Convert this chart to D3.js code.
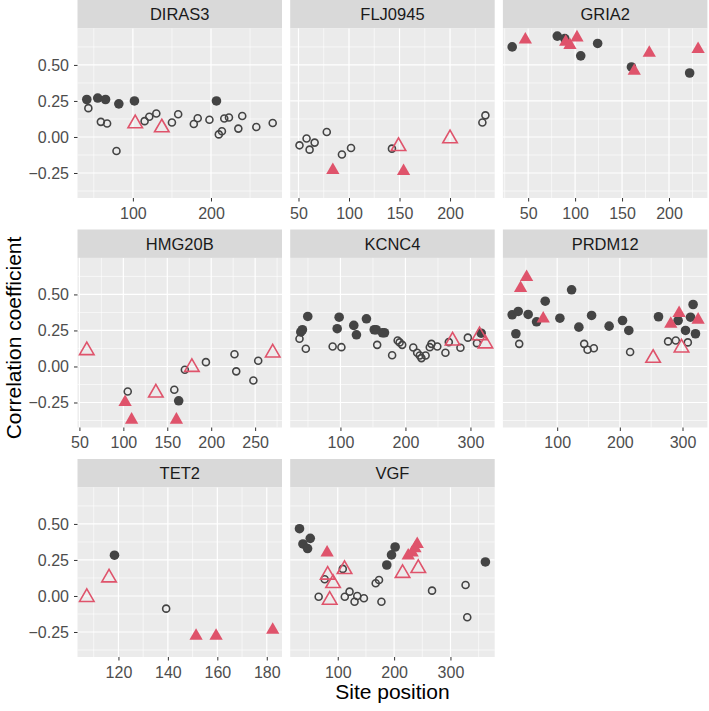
<!DOCTYPE html>
<html>
<head>
<meta charset="utf-8">
<script src="https://cdn.jsdelivr.net/npm/d3@7"></script>
<style>
  body { margin: 0; background: #fff; }
  text { font-family: "Liberation Sans", Arial, Helvetica, sans-serif; }
</style>
</head>
<body>
<div id="chart"></div>
<script>
// facet names, in layout order (3 columns)
const genes = ["DIRAS3", "FLJ0945", "GRIA2", "HMG20B", "KCNC4", "PRDM12", "TET2", "VGF"];
const yTicks = [-0.25, 0, 0.25, 0.5];
const xTicks = [
  [100, 200],
  [50, 100, 150, 200],
  [50, 100, 150, 200],
  [50, 100, 150, 200, 250],
  [100, 200, 300],
  [100, 200, 300],
  [120, 140, 160, 180],
  [100, 200, 300]
];

// [site position, correlation, kind]  kind: fc filled circle, oc open circle, ft filled triangle, ot open triangle
const diras3 = [
  [41, 0.26, "fc"], [55, 0.27, "fc"], [65, 0.26, "fc"], [82, 0.23, "fc"], [102, 0.25, "fc"], [207, 0.25, "fc"],
  [43, 0.20, "oc"], [59, 0.105, "oc"], [67, 0.093, "oc"], [79, -0.097, "oc"], [115, 0.11, "oc"], [121, 0.14, "oc"],
  [130, 0.163, "oc"], [150, 0.10, "oc"], [158, 0.158, "oc"], [178, 0.09, "oc"], [183, 0.13, "oc"], [198, 0.12, "oc"],
  [210, 0.018, "oc"], [214, 0.04, "oc"], [217, 0.128, "oc"], [223, 0.135, "oc"], [235, 0.058, "oc"], [240, 0.146, "oc"],
  [258, 0.069, "oc"], [279, 0.097, "oc"],
  [103, 0.093, "ot"], [137, 0.065, "ot"]
];
const flj0945 = [
  [51, -0.058, "oc"], [58, -0.011, "oc"], [61, -0.088, "oc"], [66, -0.039, "oc"], [78, 0.035, "oc"], [93, -0.122, "oc"],
  [102, -0.076, "oc"], [142.5, -0.081, "oc"], [232, 0.10, "oc"], [235, 0.15, "oc"],
  [84, -0.23, "ft"], [154, -0.238, "ft"],
  [149, -0.065, "ot"], [200, -0.011, "ot"]
];
const gria2 = [
  [33, 0.625, "fc"], [81, 0.70, "fc"], [89, 0.683, "fc"], [106, 0.563, "fc"], [124, 0.649, "fc"], [160, 0.486, "fc"],
  [222, 0.444, "fc"],
  [47, 0.676, "ft"], [90, 0.66, "ft"], [94.5, 0.637, "ft"], [102, 0.69, "ft"], [163, 0.458, "ft"], [179, 0.583, "ft"],
  [231, 0.609, "ft"]
];
const hmg20b = [
  [105, -0.174, "oc"], [158, -0.162, "oc"], [170, -0.023, "oc"], [194, 0.03, "oc"], [226.5, 0.085, "oc"],
  [228.5, -0.034, "oc"], [248, -0.097, "oc"], [253.5, 0.04, "oc"],
  [163, -0.238, "fc"],
  [58.4, 0.111, "ot"], [137, -0.183, "ot"], [178, -0.005, "ot"], [270, 0.095, "ot"],
  [102, -0.248, "ft"], [109.4, -0.37, "ft"], [160.4, -0.37, "ft"]
];
const kcnc4 = [
  [39, 0.24, "fc"], [41.5, 0.255, "fc"], [49.7, 0.347, "fc"], [95, 0.262, "fc"], [98, 0.342, "fc"], [120.5, 0.285, "fc"],
  [124.6, 0.22, "fc"], [140, 0.331, "fc"], [152, 0.255, "fc"], [155, 0.255, "fc"], [164.6, 0.234, "fc"],
  [167.7, 0.234, "fc"], [316.5, 0.231, "fc"],
  [37, 0.192, "oc"], [46.7, 0.123, "oc"], [88, 0.139, "oc"], [101.5, 0.134, "oc"], [156.5, 0.15, "oc"], [179.5, 0.078, "oc"],
  [188, 0.18, "oc"], [191, 0.167, "oc"], [195, 0.15, "oc"], [212, 0.132, "oc"], [218, 0.095, "oc"], [222, 0.076, "oc"],
  [224.6, 0.058, "oc"], [231, 0.076, "oc"], [237.4, 0.134, "oc"], [240, 0.157, "oc"], [249, 0.139, "oc"],
  [261.5, 0.095, "oc"], [266.7, 0.169, "oc"], [284.6, 0.13, "oc"], [296, 0.2, "oc"], [310, 0.162, "oc"],
  [272.5, 0.178, "ot"], [314, 0.215, "ot"], [323, 0.158, "ot"]
];
const prdm12 = [
  [28.2, 0.359, "fc"], [37.8, 0.382, "fc"], [34.1, 0.227, "fc"], [53.7, 0.361, "fc"], [67.1, 0.31, "fc"], [80.9, 0.453, "fc"],
  [104.3, 0.335, "fc"], [123, 0.532, "fc"], [134.6, 0.273, "fc"], [154.9, 0.354, "fc"], [182.9, 0.28, "fc"],
  [204.3, 0.319, "fc"], [214.3, 0.25, "fc"], [261.7, 0.345, "fc"], [293, 0.319, "fc"], [304.8, 0.25, "fc"],
  [312.8, 0.342, "fc"], [316.9, 0.43, "fc"], [320.7, 0.227, "fc"],
  [39.4, 0.157, "oc"], [143.1, 0.157, "oc"], [148.5, 0.116, "oc"], [158.5, 0.127, "oc"], [216.4, 0.1, "oc"],
  [277, 0.174, "oc"], [289.3, 0.18, "oc"], [308.5, 0.167, "oc"],
  [41.6, 0.544, "ft"], [51.2, 0.62, "ft"], [77.7, 0.331, "ft"], [281.3, 0.296, "ft"], [294.6, 0.37, "ft"], [324.9, 0.324, "ft"],
  [253.1, 0.058, "ot"], [298.4, 0.13, "ot"]
];
const tet2 = [
  [118.4, 0.283, "fc"],
  [139.3, -0.088, "oc"],
  [107.2, -0.009, "ot"], [116.2, 0.127, "ot"],
  [151.4, -0.278, "ft"], [159.5, -0.278, "ft"], [182.4, -0.236, "ft"]
];
const vgf = [
  [32.1, 0.467, "fc"], [38.2, 0.361, "fc"], [46.4, 0.329, "fc"], [51.2, 0.4, "fc"], [187, 0.215, "fc"], [195.4, 0.285, "fc"],
  [201.8, 0.34, "fc"], [362, 0.236, "fc"],
  [66.1, -0.005, "oc"], [76.8, 0.116, "oc"], [108.9, 0.188, "oc"], [112.5, -0.005, "oc"], [120.9, 0.03, "oc"],
  [129.8, -0.04, "oc"], [134.6, 0, "oc"], [146.4, -0.016, "oc"], [167.3, 0.088, "oc"], [173.2, 0.111, "oc"],
  [177.5, -0.04, "oc"], [267.3, 0.037, "oc"], [326.8, 0.076, "oc"], [329.8, -0.148, "oc"],
  [81.1, 0.301, "ft"], [225, 0.28, "ft"], [232, 0.30, "ft"], [237, 0.33, "ft"], [241, 0.36, "ft"],
  [82.1, 0.146, "ot"], [91.7, 0.088, "ot"], [85.7, -0.028, "ot"], [112, 0.185, "ot"], [215, 0.158, "ot"], [242.9, 0.192, "ot"]
];
const sites = [diras3, flj0945, gria2, hmg20b, kcnc4, prdm12, tet2, vgf];

const width = 709, height = 711;
const left = 77.5, colW = 204.5, colGap = 8.2;
const stripH = 28.4, panelH = 169.6, rowStep = 229.5;
const grey = "#444444", red = "#DF536B";

const svg = d3.select("#chart").append("svg")
  .attr("width", width)
  .attr("height", height);

// ggplot style 5% expansion
function expand(ext) {
  const pad = (ext[1] - ext[0]) * 0.05;
  return [ext[0] - pad, ext[1] + pad];
}

// minor breaks halfway between majors (majors extended one step each side)
function minorBreaks(majors, domain) {
  const step = majors.length > 1 ? majors[1] - majors[0] : 100;
  const b = [majors[0] - step].concat(majors, [majors[majors.length - 1] + step]);
  const out = [];
  for (let i = 0; i < b.length - 1; i++) out.push((b[i] + b[i + 1]) / 2);
  return out.filter((v) => v > domain[0] && v < domain[1]);
}

function triPath(s) {
  const R = s / Math.sqrt(3);
  return `M0,${-R}L${s / 2},${R / 2}L${-s / 2},${R / 2}Z`;
}

const allY = sites.flat().map((d) => d[1]);
const yDomain = expand(d3.extent(allY));
const y = d3.scaleLinear().domain(yDomain).range([panelH, 0]);
const yMinor = minorBreaks(yTicks, yDomain);

genes.forEach((gene, i) => {
  const col = i % 3, row = Math.floor(i / 3);
  const px = left + col * (colW + colGap);
  const py = row * rowStep;
  const data = sites[i];

  const xDomain = expand(d3.extent(data, (d) => d[0]));
  const x = d3.scaleLinear().domain(xDomain).range([0, colW]);

  // strip
  const strip = svg.append("g").attr("transform", `translate(${px},${py})`);
  strip.append("rect")
    .attr("width", colW)
    .attr("height", stripH)
    .attr("fill", "#D9D9D9");
  strip.append("text")
    .attr("x", colW / 2)
    .attr("y", stripH / 2)
    .attr("dy", "0.36em")
    .attr("text-anchor", "middle")
    .attr("font-size", "16.5px")
    .attr("fill", "#1A1A1A")
    .text(gene);

  const g = svg.append("g").attr("transform", `translate(${px},${py + stripH})`);
  g.append("rect")
    .attr("width", colW)
    .attr("height", panelH)
    .attr("fill", "#EBEBEB");

  // grid
  g.selectAll(".ymin").data(yMinor).enter().append("line")
    .attr("x1", 0).attr("x2", colW)
    .attr("y1", (d) => y(d)).attr("y2", (d) => y(d))
    .attr("stroke", "#fff").attr("stroke-width", 0.6);
  g.selectAll(".xmin").data(minorBreaks(xTicks[i], xDomain)).enter().append("line")
    .attr("y1", 0).attr("y2", panelH)
    .attr("x1", (d) => x(d)).attr("x2", (d) => x(d))
    .attr("stroke", "#fff").attr("stroke-width", 0.6);
  g.selectAll(".ymaj").data(yTicks).enter().append("line")
    .attr("x1", 0).attr("x2", colW)
    .attr("y1", (d) => y(d)).attr("y2", (d) => y(d))
    .attr("stroke", "#fff").attr("stroke-width", 1.2);
  g.selectAll(".xmaj").data(xTicks[i]).enter().append("line")
    .attr("y1", 0).attr("y2", panelH)
    .attr("x1", (d) => x(d)).attr("x2", (d) => x(d))
    .attr("stroke", "#fff").attr("stroke-width", 1.2);

  // points: circles first, triangles on top
  const circles = data.filter((d) => d[2] === "fc" || d[2] === "oc");
  const tris = data.filter((d) => d[2] === "ft" || d[2] === "ot");

  g.selectAll(".pt").data(circles).enter().append("circle")
    .attr("cx", (d) => x(d[0]))
    .attr("cy", (d) => y(d[1]))
    .attr("r", (d) => (d[2] === "fc" ? 4.8 : 3.5))
    .attr("fill", (d) => (d[2] === "fc" ? grey : "none"))
    .attr("stroke", (d) => (d[2] === "fc" ? "none" : grey))
    .attr("stroke-width", 1.6);

  g.selectAll(".tri").data(tris).enter().append("path")
    .attr("transform", (d) => `translate(${x(d[0])},${y(d[1])})`)
    .attr("d", (d) => (d[2] === "ft" ? triPath(13.3) : triPath(14.5)))
    .attr("fill", (d) => (d[2] === "ft" ? red : "none"))
    .attr("stroke", (d) => (d[2] === "ft" ? "none" : red))
    .attr("stroke-width", 1.6);

  // x axis under every panel
  const xAxis = g.append("g")
    .attr("transform", `translate(0,${panelH})`)
    .call(d3.axisBottom(x).tickValues(xTicks[i]).tickSize(3.5).tickPadding(6).tickFormat(d3.format("d")));
  xAxis.select(".domain").remove();
  xAxis.selectAll("line").attr("stroke", "#333333");
  xAxis.selectAll("text").attr("fill", "#4D4D4D").attr("font-size", "16px")
    .style("font-family", "'Liberation Sans', Arial, sans-serif");

  if (col === 0) {
    const yAxis = g.append("g")
      .call(d3.axisLeft(y).tickValues(yTicks).tickSize(3.5).tickPadding(5).tickFormat(d3.format(".2f")));
    yAxis.select(".domain").remove();
    yAxis.selectAll("line").attr("stroke", "#333333");
    yAxis.selectAll("text").attr("fill", "#4D4D4D").attr("font-size", "16px")
      .style("font-family", "'Liberation Sans', Arial, sans-serif");
  }
});

svg.append("text")
  .attr("transform", "translate(20.5,338) rotate(-90)")
  .attr("text-anchor", "middle")
  .attr("font-size", "21px")
  .attr("fill", "#000")
  .text("Correlation coefficient");

svg.append("text")
  .attr("x", left + (3 * colW + 2 * colGap) / 2)
  .attr("y", 699)
  .attr("text-anchor", "middle")
  .attr("font-size", "21px")
  .attr("fill", "#000")
  .text("Site position");
</script>
</body>
</html>
